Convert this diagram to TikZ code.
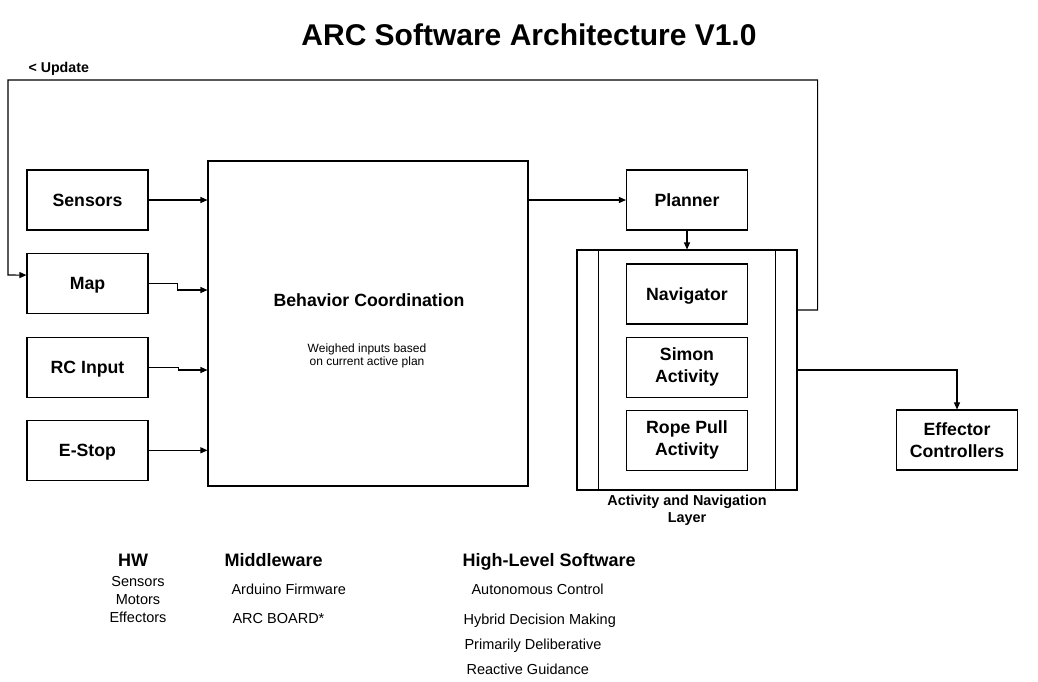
\documentclass[tikz,border=0pt]{standalone}
\usepackage{fontspec}
\setmainfont{Liberation Sans}
\usetikzlibrary{positioning,arrows.meta}
\tikzset{
  box/.style={draw=black, line width=1.1pt, minimum width=121pt, minimum height=60pt, inner sep=0pt, align=center, font=\fontsize{17.7}{22}\selectfont\bfseries},
  onebox/.style={box, text height=12.7pt, text depth=0pt},
  plain/.style={inner sep=0pt, align=center},
  head/.style={plain, font=\fontsize{18}{20}\selectfont\bfseries},
  small/.style={plain, font=\fontsize{14.5}{18}\selectfont},
  >={Triangle[length=7pt,width=6pt]}
}

\begin{document}
\begin{tikzpicture}[x=1pt, y=-1pt, line width=1.1pt]
  \path[use as bounding box, fill=white] (0,0) rectangle (1038,681);

  % Title
  \node (title) [plain, font=\fontsize{30}{36}\selectfont\bfseries] at (529,35) {ARC Software Architecture V1.0};
  \node (update) [plain, anchor=base west, font=\fontsize{14.2}{16}\selectfont\bfseries] at (28,72) {< Update};

  % Inputs
  \node (sensors) [onebox] at (87.5,200) {Sensors};
  \node (map) [onebox, below=22pt of sensors] {Map};
  \node (rcinput) [onebox, below=23pt of map] {RC Input};
  \node (estop) [onebox, below=22pt of rcinput] {E-Stop};

  % Behavior coordination
  \node (behavior) [box, minimum width=320pt, minimum height=325pt] at (368,323.5) {};
  \node (bctitle) [plain, font=\fontsize{17.7}{22}\selectfont\bfseries] at (369,300) {Behavior Coordination};
  \node (bcnote) [plain, font=\fontsize{12}{13}\selectfont] at (367,355.5) {Weighed inputs based\\on current active plan};

  % Planner and activity layer
  \node (planner) [onebox] at (687,200) {Planner};
  \node (actlayer) [box, minimum width=220pt, minimum height=240pt] at (687,370) {};
  \draw ([xshift=22pt]actlayer.north west) -- ([xshift=22pt]actlayer.south west);
  \draw ([xshift=-22pt]actlayer.north east) -- ([xshift=-22pt]actlayer.south east);
  \node (navigator) [onebox] at (687,294) {Navigator};
  \node (simon) [box, below=12pt of navigator] {Simon\\Activity};
  \node (ropepull) [box, below=12pt of simon] {Rope Pull\\Activity};
  \node (layerlabel) [plain, below=4pt of actlayer, font=\fontsize{14.4}{17}\selectfont\bfseries] {Activity and Navigation\\Layer};
  \node (effector) [box] at (957,440) {Effector\\Controllers};

  % Connectors
  \draw[->] (sensors.east) -- (behavior.west |- sensors.east);
  \draw[->] (map.east) -- ++(29,0) |- ([yshift=33.5pt]behavior.west);
  \draw[->] (rcinput.east) -- ++(30,0) |- ([yshift=-46.5pt]behavior.west);
  \draw[->] (estop.east) -- (behavior.west |- estop.east);
  \draw[->] (behavior.east |- planner.west) -- (planner.west);
  \draw[->] (planner.south) -- (actlayer.north);
  \draw[->] (actlayer.east) -| (effector.north);
  \draw[->] ([yshift=60pt]actlayer.east) -- ++(20,0) -- ++(0,-230) -- (8,80) -- (8,275) -- ([yshift=8pt]map.west);

  % Legend
  \node (hwhead) [head, anchor=base] at (133,566) {HW};
  \node (hwsensors) [small, anchor=base] at (138,586) {Sensors};
  \node (hwmotors) [small, anchor=base] at (138,604) {Motors};
  \node (hweffectors) [small, anchor=base] at (138,622) {Effectors};
  \node (mwhead) [head, anchor=base west] at (224,566) {Middleware};
  \node (arduino) [small, anchor=base west] at (231,594) {Arduino Firmware};
  \node (arcboard) [small, anchor=base west] at (232,623) {ARC BOARD*};
  \node (hlhead) [head, anchor=base west] at (462,566) {High-Level Software};
  \node (autonomous) [small, anchor=base west] at (471,594) {Autonomous Control};
  \node (hybrid) [small, anchor=base west] at (463,624) {Hybrid Decision Making};
  \node (deliberative) [small, anchor=base west] at (464,649) {Primarily Deliberative};
  \node (reactive) [small, anchor=base west] at (466,674) {Reactive Guidance};
\end{tikzpicture}
\end{document}
